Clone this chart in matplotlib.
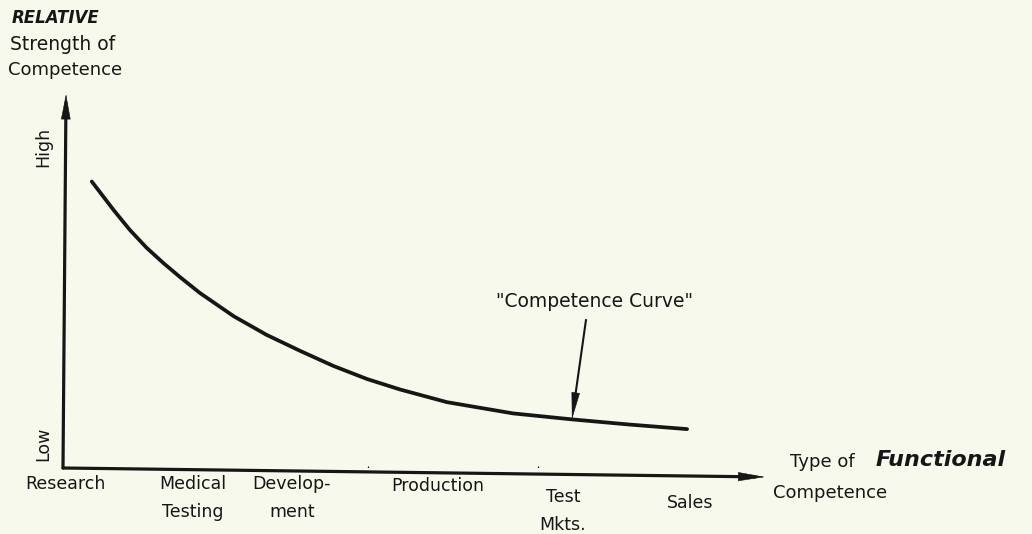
import matplotlib
matplotlib.use("Agg")
import matplotlib.pyplot as plt

# ---- data ----
categories = ["Research", "Medical\nTesting", "Develop-\nment", "Production", "Test\nMkts.", "Sales"]
category_pos = [0.3, 18.5, 32.6, 53.4, 71.2, 89.3]
label_y = [-1.9, -1.9, -1.9, -2.4, -5.3, -6.9]   # label top, in strength units

curve_pos = [4.1, 7.2, 9.5, 11.9, 14.3, 16.7, 19.5, 24.3, 29.0, 33.8, 38.5,
             43.3, 48.0, 54.7, 64.1, 72.5, 80.8, 88.9]
strength = [76.6, 69.0, 63.7, 58.9, 54.8, 51.0, 46.8, 40.6, 35.6, 31.3, 27.3,
            23.8, 21.0, 17.6, 14.6, 13.0, 11.6, 10.4]

level_labels = ["Low", "High"]
level_pos = [6.5, 85.8]

annot_text = '"Competence Curve"'
annot_point = (72.5, 13.0)
annot_text_pos = (75.7, 44.6)
annot_tail = (74.5, 39.6)

minor_marks = [43.4, 67.7]

ink = "#161616"
bg = "#f7f9ec"

fig = plt.figure(figsize=(10.32, 5.34), dpi=100, facecolor=bg)
ax = fig.add_axes([63 / 1032, 66 / 534, 702 / 1032, 374 / 534])
ax.set_facecolor("none")
ax.set_xlim(0, 100)
ax.set_ylim(0, 100)
for s in ax.spines.values():
    s.set_visible(False)
ax.set_xticks([])


def arrow(start, end, coords, lw, head_len, head_w, frac=0.9):
    """shaft drawn as a plain line, head drawn thin-edged so its tip lands on `end`."""
    ax.annotate("", xy=end, xytext=start, xycoords=coords, textcoords=coords,
                arrowprops=dict(arrowstyle="-", lw=lw, color=ink,
                                shrinkA=0, shrinkB=head_len * 4))
    back = (start[0] + (end[0] - start[0]) * frac,
            start[1] + (end[1] - start[1]) * frac)
    ax.annotate("", xy=end, xytext=back, xycoords=coords, textcoords=coords,
                arrowprops=dict(arrowstyle=f"-|>,head_length={head_len},head_width={head_w}",
                                lw=0.4, color=ink, shrinkA=0, shrinkB=0))


# axes with arrows
arrow((0, 0), (0.0043, 1.0), "axes fraction", 2.3, 1.7, 0.32, frac=0.95)
arrow((0, 0), (1.0, -0.024), "axes fraction", 2.3, 1.8, 0.3, frac=0.97)

# tiny marks on x axis
ax.vlines(minor_marks, -1.5, 0.6, color=ink, lw=0.9)

# curve
ax.plot(curve_pos, strength, color=ink, lw=2.7, solid_capstyle="round",
        solid_joinstyle="round")

# annotation
ax.text(*annot_text_pos, annot_text, ha="center", va="center", fontsize=13.5, color=ink)
arrow(annot_tail, annot_point, "data", 1.5, 1.8, 0.28, frac=0.7)

# category labels
for pos, lab, ly in zip(category_pos, categories, label_y):
    ax.text(pos, ly, lab, ha="center", va="top", fontsize=12.5, color=ink,
            linespacing=1.72)

# level labels
ax.set_yticks(level_pos, level_labels)
ax.tick_params(axis="y", length=0, pad=14, labelsize=12.5, colors=ink)
for t in ax.get_yticklabels():
    t.set_rotation(90)
    t.set_va("center")
    t.set_ha("center")

# axis titles
fig.text(12 / 1032, 1 - 18 / 534, "RELATIVE", fontsize=12, style="italic",
         fontweight="bold", color=ink, va="center", ha="left")
fig.text(10 / 1032, 1 - 45 / 534, "Strength of", fontsize=13.5, color=ink,
         va="center", ha="left")
fig.text(8 / 1032, 1 - 70 / 534, "Competence", fontsize=13, color=ink,
         va="center", ha="left")

fig.text(790 / 1032, 1 - 462 / 534, "Type of", fontsize=13, color=ink,
         va="center", ha="left")
fig.text(876 / 1032, 1 - 460 / 534, "Functional", fontsize=16, style="italic",
         fontweight="bold", color=ink, va="center", ha="left")
fig.text(773 / 1032, 1 - 493 / 534, "Competence", fontsize=13, color=ink,
         va="center", ha="left")

fig.savefig("out.png", dpi=100, facecolor=bg)
